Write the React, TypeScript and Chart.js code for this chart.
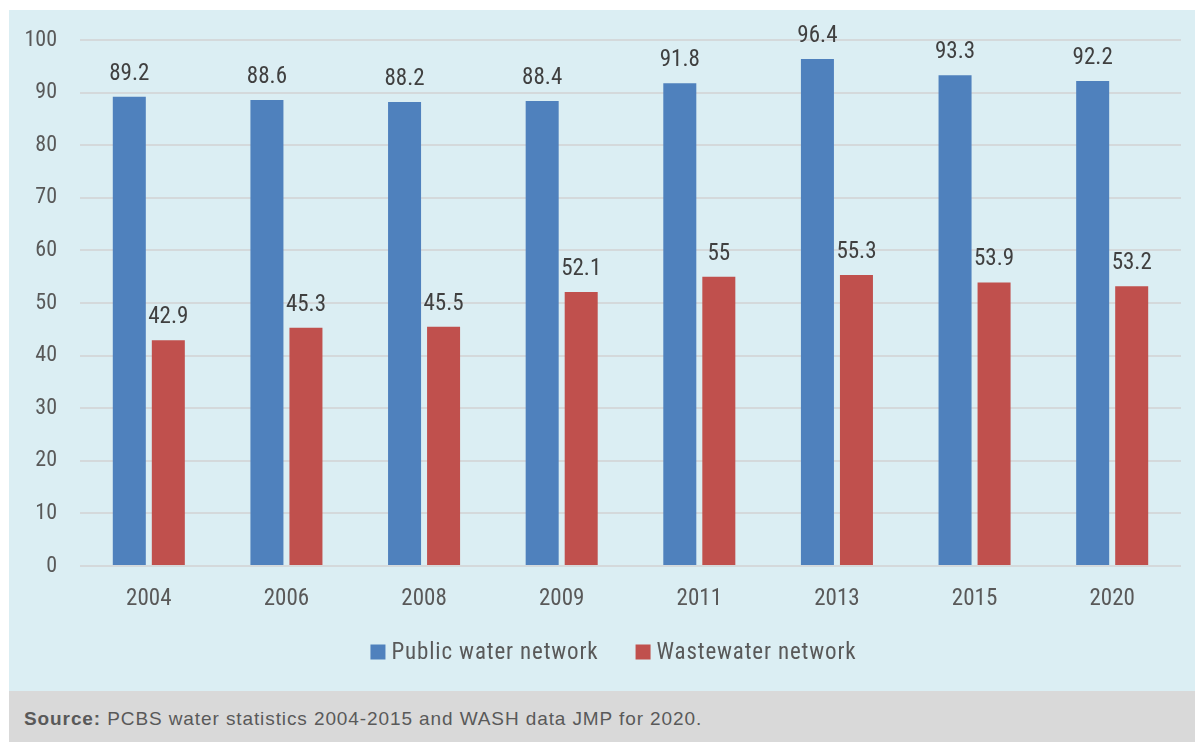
import React, { useEffect, useRef } from "react";
import { Chart, registerables } from "chart.js";

Chart.register(...registerables);

const categories = ["2004", "2006", "2008", "2009", "2011", "2013", "2015", "2020"];
const publicWater = [89.2, 88.6, 88.2, 88.4, 91.8, 96.4, 93.3, 92.2];
const wastewater = [42.9, 45.3, 45.5, 52.1, 55, 55.3, 53.9, 53.2];
const seriesNames = ["Public water network", "Wastewater network"];
const seriesColors = ["#4f81bd", "#c0504d"];
const yTicks = { min: 0, max: 100, step: 10 };
const sourceLabel = "Source:";
const sourceText = " PCBS water statistics 2004-2015 and WASH data JMP for 2020.";

const NARROW = "'Liberation Sans Narrow', 'Roboto Condensed', Roboto, sans-serif";

const valueLabels = {
  id: "valueLabels",
  afterDatasetsDraw(chart: any) {
    const ctx = chart.ctx;
    ctx.save();
    ctx.font = `23px ${NARROW}`;
    ctx.fillStyle = "#404040";
    ctx.textAlign = "center";
    ctx.textBaseline = "alphabetic";
    chart.data.datasets.forEach((ds: any, i: number) => {
      const meta = chart.getDatasetMeta(i);
      meta.data.forEach((bar: any, j: number) => {
        ctx.fillText(String(ds.data[j]), bar.x, bar.y - 17);
      });
    });
    ctx.restore();
  },
};

const customLegend = {
  id: "customLegend",
  afterDraw(chart: any) {
    const ctx = chart.ctx;
    ctx.save();
    ctx.font = `23px ${NARROW}`;
    try {
      (ctx as any).letterSpacing = "0.85px";
    } catch (e) {}
    const box = 15;
    const gap = 6;
    const spacing = 37;
    const items = chart.data.datasets.map((ds: any) => ({
      text: ds.label,
      color: ds.backgroundColor,
      w: ctx.measureText(ds.label).width,
    }));
    const total =
      items.reduce((a: number, it: any) => a + box + gap + it.w, 0) + spacing * (items.length - 1);
    let x = chart.width / 2 + 11.5 - total / 2;
    const cy = chart.chartArea.bottom + 86;
    ctx.textAlign = "left";
    ctx.textBaseline = "middle";
    items.forEach((it: any) => {
      ctx.fillStyle = it.color;
      ctx.fillRect(x, cy - box / 2, box, box);
      ctx.fillStyle = "#595959";
      ctx.fillText(it.text, x + box + gap, cy + 1);
      x += box + gap + it.w + spacing;
    });
    ctx.restore();
  },
};

export default function App() {
  const ref = useRef<HTMLCanvasElement | null>(null);
  useEffect(() => {
    if (!ref.current) return;
    const chart = new Chart(ref.current, {
      type: "bar",
      data: {
        labels: categories,
        datasets: [
          {
            label: seriesNames[0],
            data: publicWater,
            backgroundColor: seriesColors[0],
            categoryPercentage: 0.567,
            barPercentage: 0.846,
          },
          {
            label: seriesNames[1],
            data: wastewater,
            backgroundColor: seriesColors[1],
            categoryPercentage: 0.567,
            barPercentage: 0.846,
          },
        ],
      },
      options: {
        responsive: false,
        animation: false,
        devicePixelRatio: 1,
        layout: { padding: { left: 0, right: 14, top: 30, bottom: 60 } },
        plugins: {
          legend: { display: false },
          tooltip: { enabled: false },
        },
        scales: {
          x: {
            grid: { display: false },
            border: { display: false },
            ticks: { color: "#595959", font: { family: NARROW, size: 23 }, padding: 11 },
            afterFit: (s: any) => {
              s.height = 65;
            },
          },
          y: {
            min: yTicks.min,
            max: yTicks.max,
            border: { display: false },
            grid: {
              color: "#d4d9db",
              lineWidth: 2,
              drawTicks: true,
              tickLength: 23,
              tickColor: "rgba(0,0,0,0)",
            },
            ticks: {
              stepSize: yTicks.step,
              color: "#595959",
              font: { family: NARROW, size: 22 },
              padding: 0,
            },
            afterFit: (s: any) => {
              s.width = 71;
            },
          },
        },
      },
      plugins: [valueLabels, customLegend],
    });
    return () => chart.destroy();
  }, []);

  return (
    <div style={{ position: "absolute", left: 0, top: 0, width: 1195, height: 742, background: "#ffffff", overflow: "hidden" }}>
      <div style={{ position: "absolute", left: 9, top: 10, width: 1186, height: 681, background: "#dbeef3" }}>
        <canvas ref={ref} width={1186} height={681} style={{ display: "block" }} />
      </div>
      <div
        style={{
          position: "absolute",
          left: 9,
          top: 691,
          width: 1186,
          height: 51,
          background: "#d9d9d9",
          boxSizing: "border-box",
          paddingLeft: 15,
          paddingTop: 17,
          fontFamily: "'Liberation Sans', Arial, sans-serif",
          fontSize: 19,
          letterSpacing: "0.9px",
          lineHeight: "22px",
          color: "#595959",
          whiteSpace: "nowrap",
        }}
      >
        <b>{sourceLabel}</b>
        {sourceText}
      </div>
    </div>
  );
}
